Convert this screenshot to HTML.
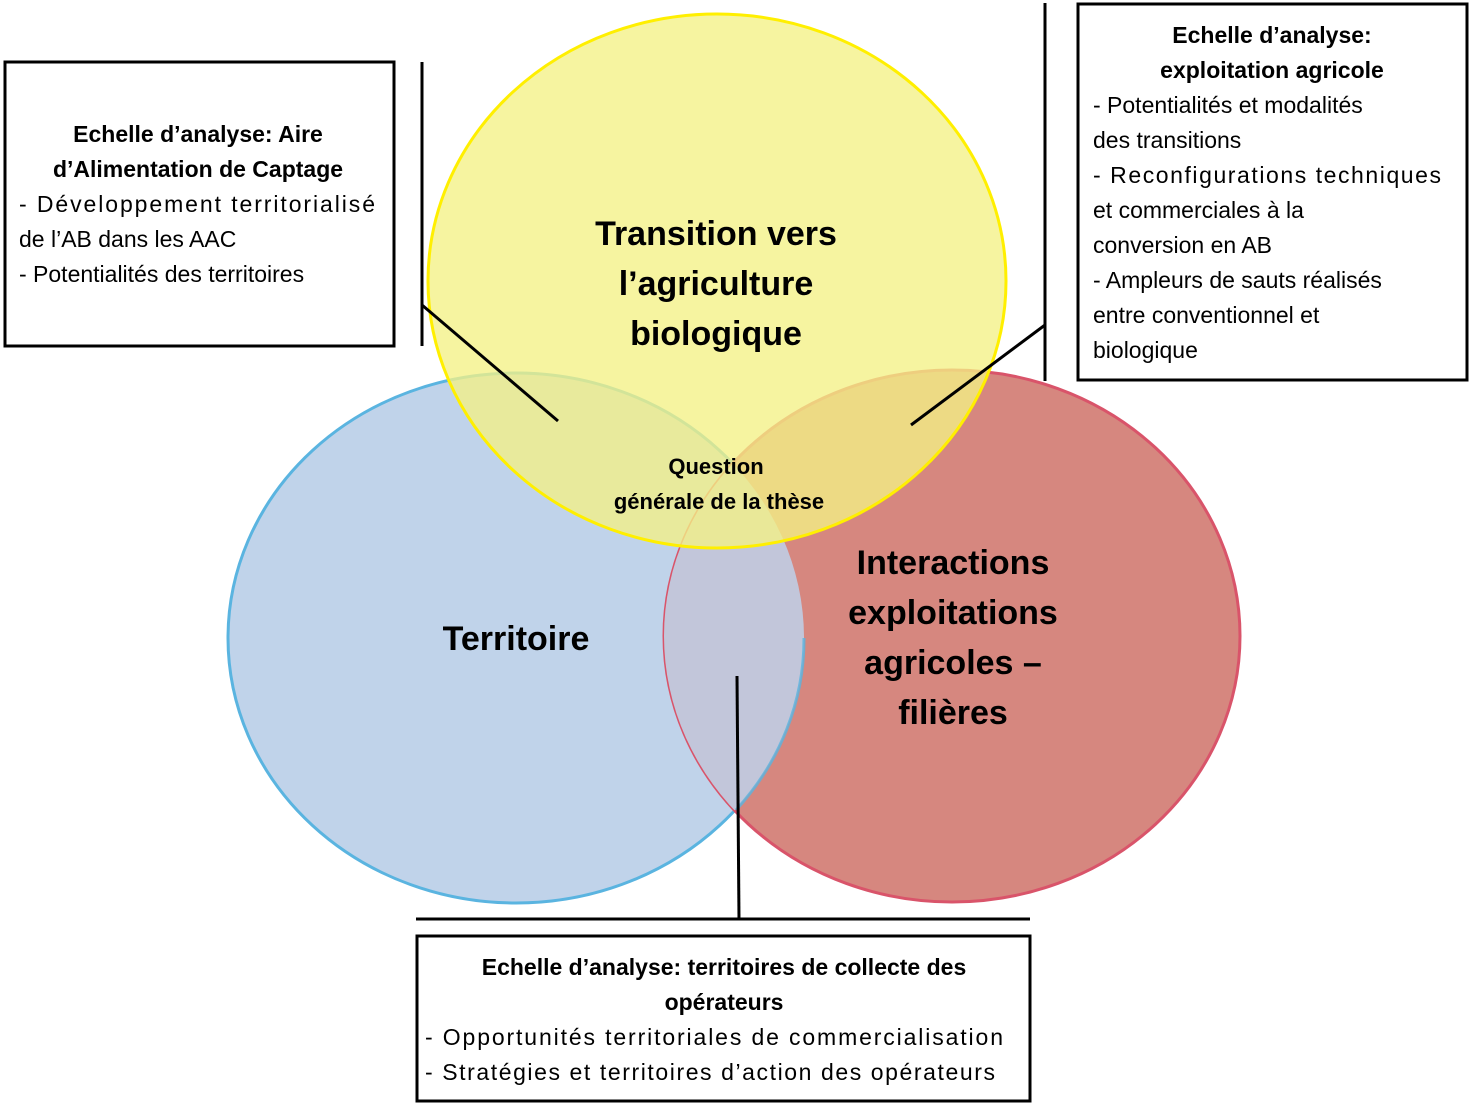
<!DOCTYPE html>
<html><head><meta charset="utf-8"><style>
html,body{margin:0;padding:0;background:#fff;}
svg{display:block;}
text{font-family:"Liberation Sans",sans-serif;fill:#000;}
</style></head><body>
<svg width="1471" height="1105" viewBox="0 0 1471 1105" xmlns="http://www.w3.org/2000/svg">
<ellipse cx="516" cy="638" rx="288" ry="265" fill="#c0d3ea" stroke="#5ab4e0" stroke-width="3"/>
<ellipse cx="952" cy="636" rx="288" ry="266" fill="#d6877f" stroke="#d9546a" stroke-width="3" fill-opacity="1"/>
<clipPath id="cb"><ellipse cx="516" cy="638" rx="288" ry="265"/></clipPath>
<ellipse cx="952" cy="636" rx="288" ry="266" fill="#c2c6da" clip-path="url(#cb)"/>
<path d="M 804 638 A 288 265 0 0 1 736 810" fill="none" stroke="#5ab4e0" stroke-width="3" opacity="0.8"/>
<ellipse cx="717" cy="281" rx="289" ry="267" fill="#f3f185" fill-opacity="0.78" stroke="#ffef00" stroke-width="3"/>

<g stroke="#000" stroke-width="3" fill="none">
<rect x="5" y="62" width="389" height="284"/>
<rect x="1078" y="4" width="389" height="376"/>
<rect x="417" y="936" width="613" height="165"/>
<line x1="422" y1="62" x2="422" y2="346"/>
<line x1="422" y1="305" x2="558" y2="421"/>
<line x1="1045" y1="3" x2="1045" y2="381"/>
<line x1="1045" y1="325" x2="911" y2="425"/>
<line x1="416" y1="919" x2="1030" y2="919"/>
<line x1="737" y1="676" x2="739" y2="919"/>
</g>

<g font-weight="bold" font-size="34" text-anchor="middle">
<text x="716" y="245">Transition vers</text>
<text x="716" y="295">l’agriculture</text>
<text x="716" y="345">biologique</text>
<text x="516" y="650">Territoire</text>
<text x="953" y="574">Interactions</text>
<text x="953" y="624">exploitations</text>
<text x="953" y="674">agricoles –</text>
<text x="953" y="724">filières</text>
</g>
<g font-size="22" font-weight="bold" text-anchor="middle">
<text x="716" y="474">Question</text>
<text x="719" y="509">générale de la thèse</text>
</g>

<g font-size="23">
<text x="198" y="142" text-anchor="middle" font-weight="bold">Echelle d’analyse: Aire</text>
<text x="198" y="177" text-anchor="middle" font-weight="bold">d’Alimentation de Captage</text>
<text x="19" y="212" textLength="356">- Développement territorialisé</text>
<text x="19" y="247">de l’AB dans les AAC</text>
<text x="19" y="282">- Potentialités des territoires</text>

<text x="1272" y="43" text-anchor="middle" font-weight="bold">Echelle d’analyse:</text>
<text x="1272" y="78" text-anchor="middle" font-weight="bold">exploitation agricole</text>
<text x="1093" y="113">- Potentialités et modalités</text>
<text x="1093" y="148">des transitions</text>
<text x="1093" y="183" textLength="348">- Reconfigurations techniques</text>
<text x="1093" y="218">et commerciales à la</text>
<text x="1093" y="253">conversion en AB</text>
<text x="1093" y="288">- Ampleurs de sauts réalisés</text>
<text x="1093" y="323">entre conventionnel et</text>
<text x="1093" y="358">biologique</text>

<text x="724" y="975" text-anchor="middle" font-weight="bold">Echelle d’analyse: territoires de collecte des</text>
<text x="724" y="1010" text-anchor="middle" font-weight="bold">opérateurs</text>
<text x="425" y="1045" textLength="578">- Opportunités territoriales de commercialisation</text>
<text x="425" y="1080" textLength="570">- Stratégies et territoires d’action des opérateurs</text>
</g>
</svg>
</body></html>
